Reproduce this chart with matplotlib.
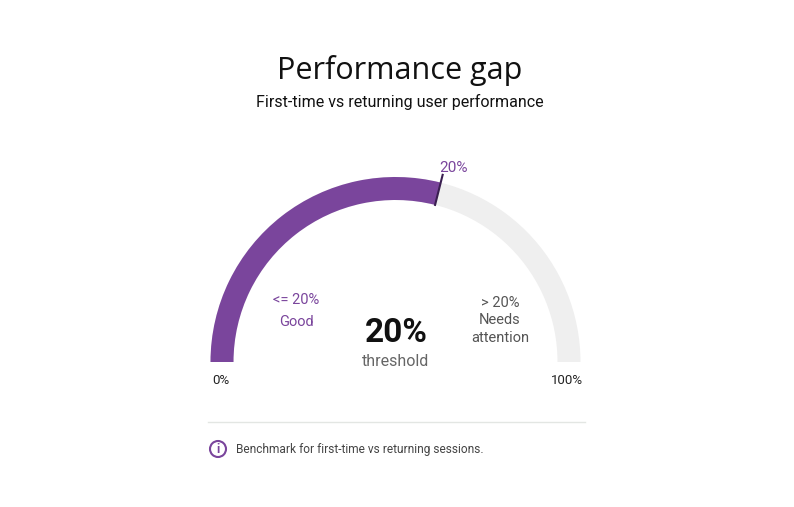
import numpy as np
import matplotlib
matplotlib.use("Agg")
import matplotlib.pyplot as plt
from matplotlib.patches import Wedge, Circle

title = "Performance gap"
subtitle = "First-time vs returning user performance"
value = 20
vmin, vmax = 0, 100
scale_exp = 0.34  # gauge uses a power scale
left_label = ["<= 20%", "Good"]
right_label = ["> 20%", "Needs", "attention"]
center_value = "20%"
center_caption = "threshold"
note = "Benchmark for first-time vs returning sessions."

purple = "#7a459c"
grey = "#efefef"

fig = plt.figure(figsize=(7.94, 5.07), dpi=100)
ax = fig.add_axes([0, 0, 1, 1])
ax.set_xlim(0, 794)
ax.set_ylim(507, 0)
ax.set_aspect("equal")
ax.axis("off")

cx, cy, r_out, r_in = 395.5, 362, 185, 162
frac = ((value - vmin) / (vmax - vmin)) ** scale_exp
ang = 180 - 180 * frac

ax.add_patch(Wedge((cx, cy), r_out, 180, 360, width=r_out - r_in, color=grey, lw=0))
ax.add_patch(Wedge((cx, cy), r_out, 180, 360 - ang, width=r_out - r_in, color=purple, lw=0))

a = np.radians(ang)
ax.plot([cx + r_in * np.cos(a), cx + (r_out + 8) * np.cos(a)],
        [cy - r_in * np.sin(a), cy - (r_out + 8) * np.sin(a)], color="#3a1f50", lw=1.5)
ax.text(cx + (r_out + 14) * np.cos(a) + 9, cy - (r_out + 14) * np.sin(a) - 1, f"{value}%",
        ha="center", va="center", fontsize=11, color=purple, family="Roboto")

ax.text(400, 71, title, ha="center", va="center", fontsize=22, family="Open Sans", color="#111")
ax.text(400, 102, subtitle, ha="center", va="center", fontsize=11.5, family="Roboto", color="#111")

ax.text(cx - r_out + 10, 381, f"{vmin}%", ha="center", va="center", fontsize=9.5, family="Roboto", color="#222")
ax.text(cx + r_out - 13, 381, f"{vmax}%", ha="center", va="center", fontsize=9.5, family="Roboto", color="#222")

ax.text(296, 300, left_label[0], ha="center", va="center", fontsize=10.5, family="Roboto", color=purple)
ax.text(296, 322, left_label[1], ha="center", va="center", fontsize=10.5, family="Roboto", color=purple)
for i, s in enumerate(right_label):
    ax.text(500, 303 + i * 17.5, s, ha="center", va="center", fontsize=10.5, family="Roboto", color="#555")

ax.text(396, 333, center_value, ha="center", va="center", fontsize=24, fontweight="bold", family="Roboto", color="#111")
ax.text(396, 362, center_caption, ha="center", va="center", fontsize=11.5, family="Roboto", color="#666")

ax.plot([208, 585], [422, 422], color="#e3e6e3", lw=1)
ax.add_patch(Circle((218, 449), 8, fill=False, ec=purple, lw=1.5))
ax.text(218, 449.5, "i", ha="center", va="center", fontsize=9, fontweight="bold", color=purple, family="Roboto")
ax.text(236, 449, note, ha="left", va="center", fontsize=8.6, family="Roboto", color="#444")

fig.savefig("out.png", dpi=100, facecolor="white")
